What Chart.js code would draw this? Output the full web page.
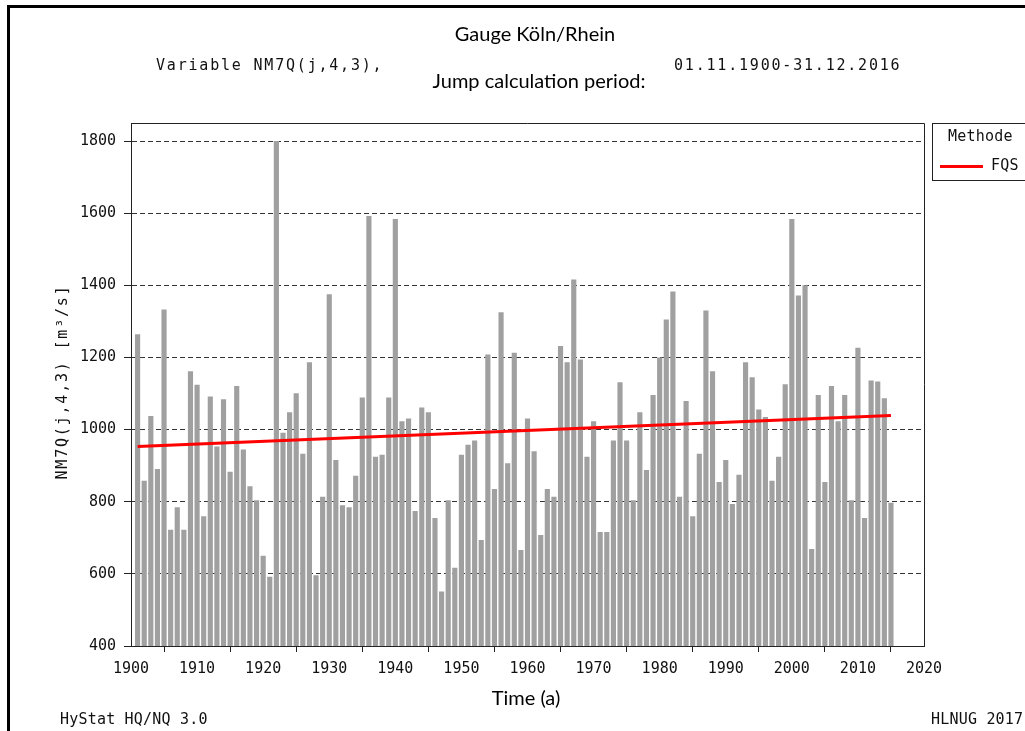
<!DOCTYPE html>
<html lang="de">
<head>
  <meta charset="UTF-8">
  <title>Gauge Köln/Rhein – NM7Q(j,4,3)</title>
  <script src="https://cdn.jsdelivr.net/npm/chart.js"></script>
  <style>
    body {
      margin: 0;
      background: #fff;
    }
    #wrap {
      width: 1025px;
      height: 731px;
    }
  </style>
</head>
<body>

<div id="wrap">
  <canvas id="chart" width="1025" height="731"></canvas>
</div>

<script>
  // Jahre 1901..2015 (Kategorien)
  const years = Array.from({ length: 115 }, (_, i) => 1901 + i);

  // NM7Q(j,4,3) in m³/s
  const nm7q = [
    1264, 858, 1038, 891, 1333, 722, 785, 722, 1162, 1124,   // 1901-1910
    760, 1092, 953, 1084, 883, 1121, 945, 843, 804, 650,     // 1911-1920
    592, 1800, 991, 1048, 1101, 933, 1187, 596, 814, 1375,   // 1921-1930
    916, 790, 785, 872, 1089, 1592, 925, 930, 1089, 1584,    // 1931-1940
    1023, 1031, 774, 1061, 1048, 755, 551, 804, 617, 930,    // 1941-1950
    958, 970, 694, 1208, 835, 1325, 907, 1213, 666, 1031,    // 1951-1960
    940, 708, 835, 814, 1232, 1187, 1416, 1194, 925, 1023,   // 1961-1970
    716, 716, 970, 1131, 970, 804, 1048, 888, 1096, 1200,    // 1971-1980
    1305, 1383, 814, 1079, 760, 933, 1330, 1162, 855, 916,   // 1981-1990
    794, 875, 1187, 1145, 1056, 1035, 858, 925, 1126, 1584,  // 1991-2000
    1372, 1400, 669, 1096, 855, 1121, 1023, 1096, 804, 1227, // 2001-2010
    755, 1136, 1133, 1087, 797                               // 2011-2015
  ];

  // Trend (Methode FQS): Anfangs- und Endpunkt
  const trendYears = [1901, 2015];
  const trendFqs = [953, 1039];

  const mono = '"DejaVu Sans Mono", monospace';
  const sans = 'Lato, "Open Sans", sans-serif';

  function monoText(c, txt, x, y, size, spacing) {
    c.font = size + 'px ' + mono;
    c.letterSpacing = spacing + 'px';
    c.fillText(txt, x, y);
    c.letterSpacing = '0px';
  }

  // Rahmen, Titel, Legende
  const decor = {
    id: 'decor',
    afterDraw(chart) {
      const c = chart.ctx;
      const a = chart.chartArea;
      c.save();

      // Bildrahmen oben und links
      c.fillStyle = '#000';
      c.fillRect(7, 5, 1025, 3);
      c.fillRect(7, 5, 3, 731);

      // Rahmen des Plotbereichs oben und rechts
      c.strokeStyle = '#222';
      c.lineWidth = 1;
      c.beginPath();
      c.moveTo(a.left, Math.round(a.top) + 0.5);
      c.lineTo(Math.round(a.right) + 0.5, Math.round(a.top) + 0.5);
      c.lineTo(Math.round(a.right) + 0.5, a.bottom);
      c.stroke();

      c.fillStyle = '#000';
      c.textBaseline = 'middle';

      // Titel
      c.font = '20px ' + sans;
      c.textAlign = 'center';
      c.fillText('Gauge Köln/Rhein', 535, 35);
      c.fillText('Jump calculation period:', 539, 82);
      c.fillText('Time (a)', 526, 699);

      c.fillStyle = '#111';
      c.textAlign = 'left';
      monoText(c, 'Variable NM7Q(j,4,3),', 156, 66, 15, 1.8);
      monoText(c, '01.11.1900-31.12.2016', 674, 66, 15, 1.8);
      monoText(c, 'HyStat HQ/NQ 3.0', 60, 720, 15, 0.2);
      monoText(c, 'HLNUG 2017', 931, 720, 15, 0.2);

      // Y-Achsentitel
      c.save();
      c.translate(63, 382);
      c.rotate(-Math.PI / 2);
      c.textAlign = 'center';
      monoText(c, 'NM7Q(j,4,3) [m³/s]', 0, 0, 15, 1.8);
      c.restore();

      // Legende
      c.strokeStyle = '#222';
      c.strokeRect(932.5, 123.5, 100, 57);
      c.textAlign = 'left';
      monoText(c, 'Methode', 948, 137, 15, 0.2);
      monoText(c, 'FQS', 991, 166, 15, 0.2);
      c.strokeStyle = '#ff0000';
      c.lineWidth = 3;
      c.beginPath();
      c.moveTo(940, 166.5);
      c.lineTo(983, 166.5);
      c.stroke();

      c.restore();
    }
  };

  const ctx = document.getElementById('chart').getContext('2d');

  new Chart(ctx, {
    type: 'bar',
    data: {
      datasets: [
        {
          type: 'line',
          label: 'FQS',
          data: trendYears.map((x, i) => ({ x: x, y: trendFqs[i] })),
          borderColor: '#ff0000',
          borderWidth: 3,
          pointRadius: 0,
          order: 0
        },
        {
          type: 'bar',
          label: 'NM7Q',
          data: years.map((x, i) => ({ x: x, y: nm7q[i] })),
          backgroundColor: '#a0a0a0',
          barPercentage: 1,
          categoryPercentage: 0.78,
          order: 1
        }
      ]
    },
    options: {
      responsive: false,
      animation: false,
      layout: { padding: { left: 0, top: 123, right: 101, bottom: 0 } },
      plugins: {
        legend: { display: false },
        tooltip: { enabled: false }
      },
      scales: {
        x: {
          type: 'linear',
          min: 1900,
          max: 2020,
          offset: false,
          ticks: {
            stepSize: 10,
            autoSkip: false,
            maxRotation: 0,
            padding: 8,
            color: '#111',
            font: { family: mono, size: 15 },
            callback: v => String(v)
          },
          grid: { drawOnChartArea: false, tickLength: 6, tickColor: '#222' },
          border: { color: '#222', width: 1 },
          afterFit: s => { s.height = 85; }
        },
        y: {
          min: 400,
          max: 1850,
          ticks: {
            stepSize: 200,
            includeBounds: false,
            padding: 8,
            color: '#111',
            font: { family: mono, size: 15 },
            callback: v => String(v)
          },
          grid: {
            color: c => (c.tick && c.tick.value === 400) ? 'rgba(0,0,0,0)' : '#333',
            tickLength: 7,
            tickColor: '#222'
          },
          border: { color: '#222', width: 1, dash: [5, 3] },
          afterFit: s => { s.width = 131; }
        }
      }
    },
    plugins: [decor]
  });
</script>

</body>
</html>
